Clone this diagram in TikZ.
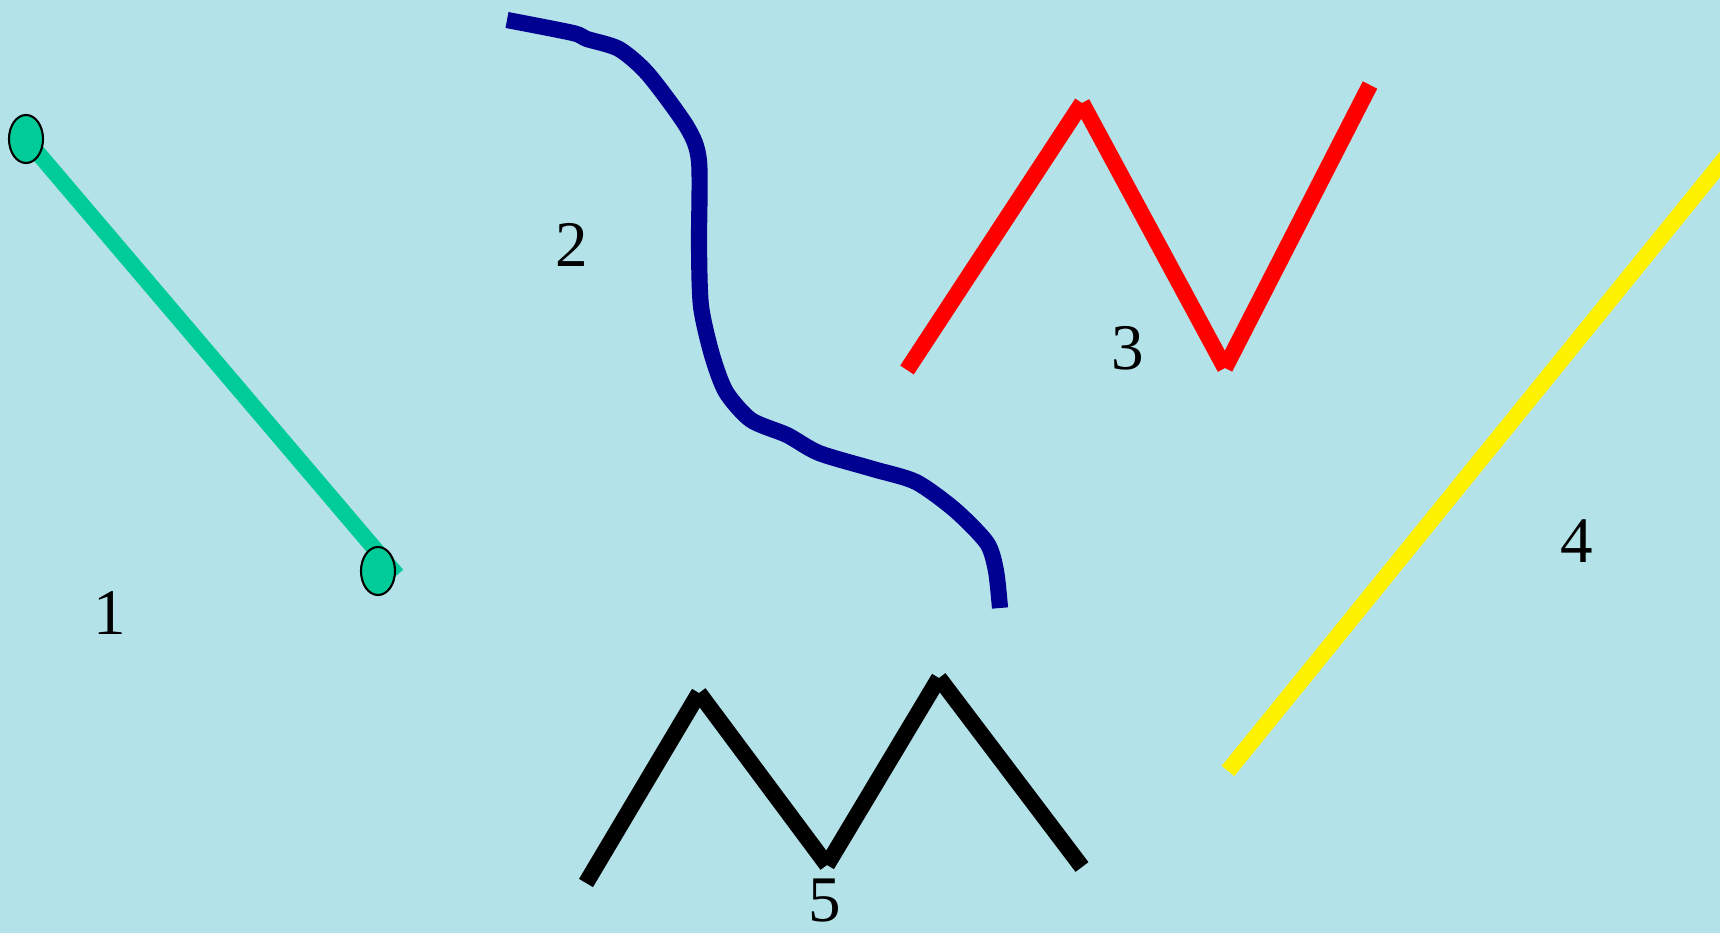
\documentclass[tikz,border=0pt]{standalone}
\usepackage{fontspec}
\setmainfont{Liberation Serif}
\usepackage{tikz}
\usetikzlibrary{shapes.geometric}
\definecolor{water}{RGB}{180,226,233}
\definecolor{mint}{RGB}{0,204,153}
\definecolor{navy}{RGB}{0,0,145}

\begin{document}
\begin{tikzpicture}[
  x=0.01cm, y=-0.01cm,
  font=\fontsize{18.5}{22}\selectfont,
  band/.style={line width=4.6pt},
  tipdot/.style={ellipse, draw=black, line width=0.6pt, fill=mint,
                 minimum width=0.34cm, minimum height=0.48cm, inner sep=0pt},
  num/.style={inner sep=0pt}
]
  \fill[water] (0,0) rectangle (1720,933);
  \useasboundingbox (0,0) rectangle (1720,933);

  % 1: segment with two ends
  \coordinate (p1) at (26,139);
  \coordinate (q1) at (378,571);
  \coordinate (e1) at (397,575);
  \draw[band,mint] (p1) -- (e1);
  \node[tipdot] (a1) at (p1) {};
  \node[tipdot] (b1) at (q1) {};
  \node[num] (n1) at (110,613) {1};

  % 2: curve
  \draw[band,navy] plot[smooth, tension=0.45] coordinates {
    (507,20) (573,33) (587,39) (619,49) (648,74) (687,127) (699,161)
    (699,245) (701,306) (712,355) (726,392) (751,420) (787,435)
    (819,453) (873,469) (916,482) (955,510) (987,543) (996,571) (1000,608)};
  \node[num] (n2) at (572,245) {2};

  % 3: broken line
  \coordinate (r0) at (907,370);
  \coordinate (r1) at (1082,103);
  \coordinate (r2) at (1225,368);
  \coordinate (r3) at (1370,85);
  \draw[band,red] (r0) -- (r1) (r1) -- (r2) (r2) -- (r3);
  \node[num] (n3) at (1128,348) {3};

  % 4: ray
  \coordinate (y0) at (1228,771);
  \coordinate (y1) at (1735,146);
  \draw[band,yellow] (y0) -- (y1);
  \node[num] (n4) at (1577,541) {4};

  % 5: broken line
  \coordinate (k0) at (586,883);
  \coordinate (k1) at (699,693);
  \coordinate (k2) at (827,865);
  \coordinate (k3) at (939,678);
  \coordinate (k4) at (1082,867);
  \draw[band,black] (k0) -- (k1) (k1) -- (k2) (k2) -- (k3) (k3) -- (k4);
  \node[num] (n5) at (825,901) {5};
\end{tikzpicture}
\end{document}
